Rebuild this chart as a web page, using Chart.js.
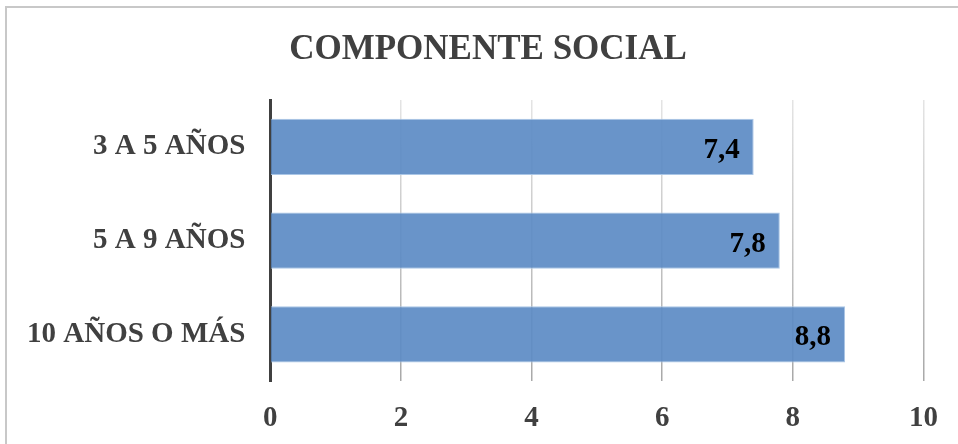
<!DOCTYPE html>
<html>
<head>
<meta charset="utf-8">
<script src="https://cdn.jsdelivr.net/npm/chart.js@4"></script>
<style>
  html, body { margin: 0; padding: 0; background: #fff; }
  #wrap {
    position: absolute; left: 5px; top: 6px; width: 953px; height: 438px;
    border-left: 2px solid #c8c8c8; border-top: 2px solid #c8c8c8;
  }
  #chart { position: absolute; left: -7px; top: -8px; }
</style>
</head>
<body>
<div id="wrap"><canvas id="chart" width="958" height="444"></canvas></div>
<script>
const chartTitle = "COMPONENTE SOCIAL";
const categories = ["3 A 5 AÑOS", "5 A 9 AÑOS", "10 AÑOS O MÁS"];
const values = [7.4, 7.8, 8.8];
const xTicks = [0, 2, 4, 6, 8, 10];

const textColor = "#404040";
const serif = "'Liberation Serif', 'Times New Roman', serif";

// title drawn by hand so it can sit over the whole frame like the original
const titlePlugin = {
  id: "titlePlugin",
  afterDraw(chart) {
    const ctx = chart.ctx;
    ctx.save();
    ctx.font = "bold 35px " + serif;
    ctx.fillStyle = textColor;
    ctx.textAlign = "center";
    ctx.textBaseline = "alphabetic";
    ctx.fillText(chartTitle, 488, 59);
    ctx.restore();
  },
};

const valueLabels = {
  id: "valueLabels",
  afterDatasetsDraw(chart) {
    const ctx = chart.ctx;
    const meta = chart.getDatasetMeta(0);
    ctx.save();
    ctx.font = "bold 29px " + serif;
    ctx.fillStyle = "#000";
    ctx.textAlign = "right";
    ctx.textBaseline = "alphabetic";
    meta.data.forEach((bar, i) => {
      ctx.fillText(values[i].toFixed(1).replace(".", ","), bar.x - 14, bar.y + 11);
    });
    ctx.restore();
  },
};

function gridGradient(c) {
  const area = c.chart.chartArea;
  if (!area) return "#cfcfcf";
  const g = c.chart.ctx.createLinearGradient(0, area.top, 0, area.bottom);
  g.addColorStop(0, "#e4e4e4");
  g.addColorStop(1, "#a8a8a8");
  return g;
}

new Chart(document.getElementById("chart"), {
  type: "bar",
  data: {
    labels: categories,
    datasets: [{
      data: values,
      backgroundColor: "rgba(92, 139, 196, 0.92)",
      borderColor: "rgba(170, 198, 230, 1)",
      borderWidth: 1,
      barPercentage: 0.6,
      categoryPercentage: 1,
    }],
  },
  options: {
    indexAxis: "y",
    responsive: false,
    animation: false,
    layout: { padding: { left: 2, right: 32, top: 100, bottom: -12 } },
    plugins: {
      legend: { display: false },
      tooltip: { enabled: false },
      title: { display: false },
    },
    scales: {
      x: {
        min: 0,
        max: 10,
        afterBuildTicks: (axis) => { axis.ticks = xTicks.map((v) => ({ value: v })); },
        grid: { color: gridGradient, lineWidth: 1.5, drawTicks: false },
        border: { display: false },
        ticks: { color: textColor, padding: 20, font: { family: serif, size: 29, weight: "bold" } },
      },
      y: {
        grid: { display: false, drawTicks: false },
        border: { display: true, color: "#404040", width: 3 },
        ticks: { color: textColor, padding: 25, font: { family: serif, size: 29, weight: "bold" } },
      },
    },
  },
  plugins: [valueLabels, titlePlugin],
});
</script>
</body>
</html>
